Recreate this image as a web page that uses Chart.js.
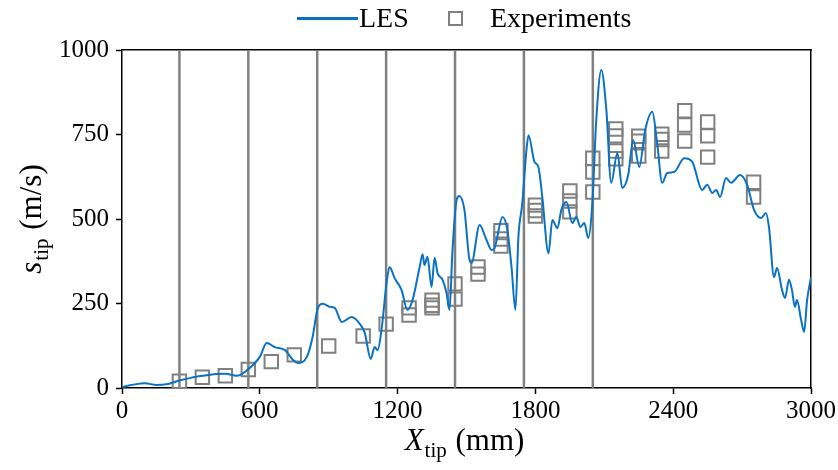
<!DOCTYPE html>
<html>
<head>
<meta charset="utf-8">
<script src="https://cdn.jsdelivr.net/npm/chart.js@4.4.1/dist/chart.umd.min.js"></script>
<style>
  body { margin: 0; background: #fff; }
  #wrap { position: relative; width: 838px; height: 470px; }
  #legend { position: absolute; top: 0; left: 0; width: 838px; height: 40px;
            font-family: "Liberation Serif", "DejaVu Serif", serif; font-size: 28px; color: #000; }
  #legend .item { position: absolute; top: 2px; line-height: 32px; white-space: nowrap; }
  #legend .les-line { position: absolute; left: 297px; top: 17px; width: 61px; height: 2.5px; background: #0a72c4; }
  #legend .exp-box { position: absolute; left: 448px; top: 11px; width: 11px; height: 11px; border: 2px solid #808080; }
</style>
</head>
<body>
<div id="wrap">
  <canvas id="chart" width="838" height="470"></canvas>
  <div id="legend">
    <div class="les-line"></div>
    <div class="item" style="left:359px">LES</div>
    <div class="exp-box"></div>
    <div class="item" style="left:490px">Experiments</div>
  </div>
</div>
<script>
// LES tip speed along the tube (mm, m/s)
const lesX = [0, 50, 100, 150, 200, 250, 300, 350, 400, 450,
  500, 545, 600, 630, 665, 710, 745, 765, 805, 830,
  852, 875, 905, 926, 957, 1000, 1035, 1057, 1083, 1100,
  1113, 1130, 1152, 1165, 1187, 1217, 1243, 1265, 1296, 1309,
  1317, 1330, 1348, 1361, 1374, 1396, 1413, 1426, 1439, 1457,
  1468, 1491, 1513, 1522, 1557, 1587, 1609, 1622, 1657, 1678,
  1696, 1713, 1726, 1743, 1761, 1770, 1796, 1813, 1830, 1857,
  1874, 1896, 1913, 1935, 1961, 1978, 1996, 2013, 2030, 2048,
  2065, 2087, 2109, 2130, 2157, 2178, 2204, 2226, 2252, 2278,
  2309, 2330, 2352, 2374, 2404, 2448, 2483, 2526, 2548, 2570,
  2587, 2604, 2630, 2652, 2691, 2722, 2752, 2783, 2804, 2817,
  2839, 2852, 2874, 2887, 2904, 2917, 2930, 2939, 2957, 2970,
  2983, 3000];
const lesY = [3, 10, 14, 9, 12, 22, 30, 36, 41, 42,
  36, 53, 92, 133, 121, 112, 83, 74, 92, 151,
  235, 249, 240, 237, 195, 210, 190, 163, 86, 121,
  112, 172, 311, 358, 325, 290, 231, 260, 358, 396,
  364, 388, 299, 385, 340, 320, 281, 231, 408, 556,
  568, 527, 379, 370, 482, 438, 408, 414, 506, 467,
  358, 231, 447, 547, 704, 748, 669, 654, 565, 399,
  497, 473, 527, 550, 488, 506, 476, 488, 444, 547,
  793, 941, 822, 607, 695, 592, 630, 734, 654, 763,
  817, 725, 607, 636, 639, 680, 669, 586, 601, 577,
  586, 565, 621, 607, 630, 601, 527, 503, 518, 476,
  328, 355, 290, 266, 320, 290, 240, 260, 201, 166,
  260, 328];

// experimental measurements
const expX = [250, 350, 450, 550, 650, 750, 900, 1050, 1150,
  1250, 1250, 1350, 1350, 1350, 1450, 1450, 1550, 1550,
  1650, 1650, 1650, 1800, 1800, 1800, 1950, 1950, 1950,
  2050, 2050, 2050, 2150, 2150, 2150, 2150, 2250, 2250, 2250,
  2350, 2350, 2350, 2450, 2450, 2450, 2550, 2550, 2550, 2750, 2750];
const expY = [20, 32, 36, 55, 78, 98, 124, 154, 189,
  237, 216, 260, 245, 237, 308, 263, 358, 337,
  465, 441, 420, 541, 525, 509, 583, 553, 521,
  680, 639, 580, 766, 746, 701, 678, 745, 730, 686,
  751, 735, 701, 820, 778, 731, 787, 746, 683, 609, 565];

// vertical marker positions (mm)
const markerX = [250, 550, 850, 1150, 1450, 1750, 2050];

const xTicks = [0, 600, 1200, 1800, 2400, 3000];
const yTicks = [0, 250, 500, 750, 1000];

const serif = '"Liberation Serif", "DejaVu Serif", serif';

const datasets = [{
  label: 'LES',
  data: lesX.map((x, i) => ({ x, y: lesY[i] })),
  borderColor: '#0a72c4',
  borderWidth: 2,
  pointRadius: 0,
  tension: 0.35,
  cubicInterpolationMode: 'monotone',
  order: 0
}, {
  label: 'Experiments',
  type: 'scatter',
  data: expX.map((x, i) => ({ x, y: expY[i] })),
  pointStyle: 'rect',
  pointRadius: 9.5,
  borderWidth: 2,
  borderColor: '#808080',
  backgroundColor: 'rgba(0,0,0,0)',
  order: 1
}];

markerX.forEach((x) => {
  datasets.push({
    label: 'marker',
    data: [{ x, y: 0 }, { x, y: 1000 }],
    borderColor: '#808080',
    borderWidth: 2.5,
    pointRadius: 0,
    order: 2
  });
});

// axis titles with subscripts
const titlePlugin = {
  id: 'axisTitles',
  afterDraw(chart) {
    const ctx = chart.ctx;
    const area = chart.chartArea;
    const big = '31px ' + serif;
    const bigIt = 'italic 31px ' + serif;
    const small = '21px ' + serif;

    function drawTitle(sym, rest, cx, cy) {
      ctx.font = bigIt;
      const w1 = ctx.measureText(sym).width;
      ctx.font = small;
      const w2 = ctx.measureText('tip').width;
      ctx.font = big;
      const w3 = ctx.measureText(rest).width;
      let x = cx - (w1 + w2 + w3 + 2) / 2;
      ctx.textBaseline = 'alphabetic';
      ctx.textAlign = 'left';
      ctx.fillStyle = '#000';
      ctx.font = bigIt;
      ctx.fillText(sym, x, cy);
      x += w1 + 1;
      ctx.font = small;
      ctx.fillText('tip', x, cy + 7);
      x += w2 + 1;
      ctx.font = big;
      ctx.fillText(rest, x, cy);
    }

    ctx.save();
    drawTitle('X', ' (mm)', (area.left + area.right) / 2 - 2, 450);
    ctx.restore();

    ctx.save();
    ctx.translate(41, (area.top + area.bottom) / 2);
    ctx.rotate(-Math.PI / 2);
    drawTitle('s', ' (m/s)', 0, 0);
    ctx.restore();
  }
};

new Chart(document.getElementById('chart'), {
  type: 'line',
  data: { datasets },
  options: {
    responsive: false,
    animation: false,
    layout: { padding: { left: 0, right: 26, top: 50, bottom: 0 } },
    plugins: {
      legend: { display: false },
      tooltip: { enabled: false }
    },
    scales: {
      x: {
        type: 'linear',
        min: 0,
        max: 3000,
        afterBuildTicks: (axis) => { axis.ticks = xTicks.map((v) => ({ value: v })); },
        afterFit: (axis) => { axis.height = 82; },
        ticks: { color: '#000', font: { family: serif, size: 25 }, padding: 2, maxRotation: 0,
                 callback: (v) => String(v) },
        grid: { drawOnChartArea: false, drawTicks: true, tickLength: 6, tickWidth: 1.5, color: '#000' },
        border: { display: true, color: '#000', width: 1.5 }
      },
      x2: {
        type: 'linear',
        position: 'top',
        min: 0,
        max: 3000,
        afterFit: (axis) => { axis.height = 0; },
        ticks: { display: false },
        grid: { drawOnChartArea: false, drawTicks: false },
        border: { display: true, color: '#000', width: 1.5 }
      },
      y: {
        min: 0,
        max: 1000,
        afterBuildTicks: (axis) => { axis.ticks = yTicks.map((v) => ({ value: v })); },
        afterFit: (axis) => { axis.width = 122; },
        ticks: { color: '#000', font: { family: serif, size: 25 }, padding: 7,
                 callback: (v) => String(v) },
        grid: { drawOnChartArea: false, drawTicks: true, tickLength: 6, tickWidth: 1.5, color: '#000' },
        border: { display: true, color: '#000', width: 1.5 }
      },
      y2: {
        position: 'right',
        min: 0,
        max: 1000,
        afterFit: (axis) => { axis.width = 0; },
        ticks: { display: false },
        grid: { drawOnChartArea: false, drawTicks: false },
        border: { display: true, color: '#000', width: 1.5 }
      }
    }
  },
  plugins: [titlePlugin]
});
</script>
</body>
</html>
